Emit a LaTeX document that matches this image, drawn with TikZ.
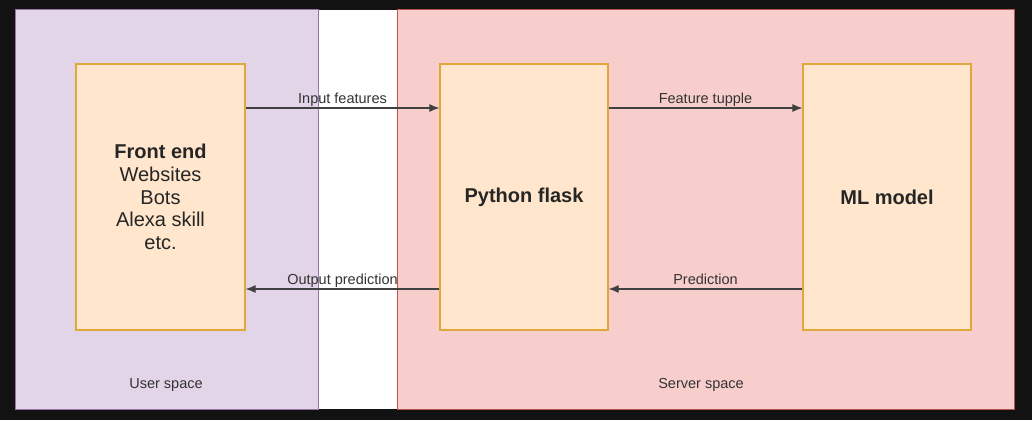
\documentclass[tikz,border=0pt]{standalone}
\usepackage{fontspec}
\setmainfont{Liberation Sans}
\usetikzlibrary{arrows.meta}
\definecolor{userfill}{HTML}{E1D5E7}
\definecolor{userline}{HTML}{9673A6}
\definecolor{serverfill}{HTML}{F8CECC}
\definecolor{serverline}{HTML}{B85450}
\definecolor{boxfill}{HTML}{FFE6CC}
\definecolor{boxline}{HTML}{E0A83A}
\definecolor{labelgray}{HTML}{333333}
\tikzset{
  part/.style={draw=boxline, fill=boxfill, line width=1.2pt, minimum width=168pt,
    minimum height=266pt, align=center, font=\fontsize{20}{22.75}\selectfont, text=black!85},
  flow/.style={-{Latex[length=10pt,width=8pt]}, line width=1.1pt, draw=black!75},
  flowlabel/.style={above, font=\fontsize{14.5}{16}\selectfont, text=labelgray, inner sep=2pt,
    text height=0.75em, text depth=0.22em},
  spacelabel/.style={font=\fontsize{14.5}{16}\selectfont, text=labelgray}
}
\begin{document}
\begin{tikzpicture}[x=1pt, y=1pt]
            \useasboundingbox (0,0) rectangle (1032,420);
            \fill[black!93] (0,0) rectangle (1032,420);
            \fill[white] (318,11) rectangle (397,410);
            \filldraw[fill=userfill, draw=userline, line width=1pt] (15,11) rectangle (318,410);
            \filldraw[fill=serverfill, draw=serverline, line width=1pt] (397,11) rectangle (1014,410);

            \node [part, minimum width=169pt] (front) at (160.5,223) {\textbf{Front end}\\Websites\\Bots\\Alexa skill\\etc.};
            \node [part] (flask) at (524,223) {\textbf{Python flask}};
            \node [part] (model) at (887,223) {\textbf{ML model}};

            \draw [flow] ([yshift=89pt]front.east) to node[flowlabel] {Input features} ([yshift=89pt]flask.west);
            \draw [flow] ([yshift=89pt]flask.east) to node[flowlabel] {Feature tupple} ([yshift=89pt]model.west);
            \draw [flow] ([yshift=-92pt]model.west) to node[flowlabel] {Prediction} ([yshift=-92pt]flask.east);
            \draw [flow] ([yshift=-92pt]flask.west) to node[flowlabel] {Output prediction} ([yshift=-92pt]front.east);

            \node [spacelabel] (user) at (166,35) {User space};
            \node [spacelabel] (server) at (701,35) {Server space};
        \end{tikzpicture}
\end{document}
